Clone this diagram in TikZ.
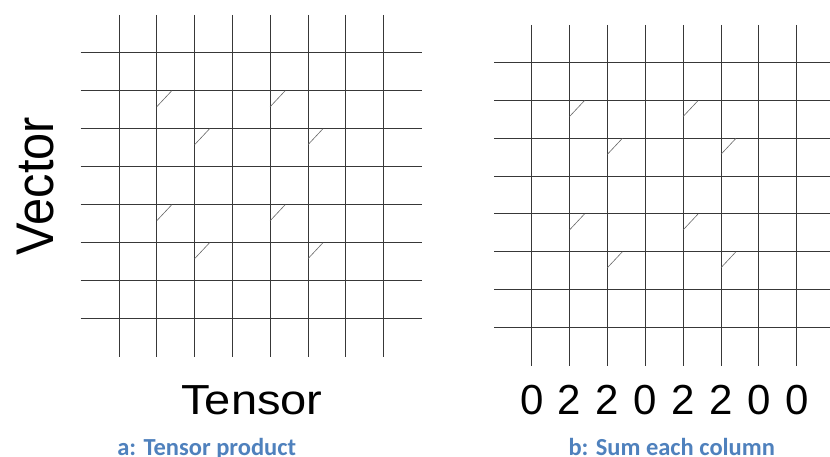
\documentclass[tikz,border=0pt]{standalone}
\usepackage{fontspec}
\usepackage{graphicx}
\newfontfamily\arialf{Liberation Sans}
\newfontfamily\calib{Carlito}
\definecolor{capblue}{RGB}{79,129,189}
\tikzset{
  gridline/.style={draw=black!78, line width=0.8pt},
  tick/.style={draw=black!60, line width=0.6pt},
  bigtext/.style={font=\arialf\fontsize{42}{48}\selectfont, inner sep=0pt, anchor=base},
  captext/.style={font=\calib\bfseries\fontsize{24.5}{28}\selectfont, text=capblue, inner sep=0pt, anchor=base}
}
\begin{document}
\begin{tikzpicture}[x=1pt,y=-1pt]
\useasboundingbox (0,0) rectangle (830,457);
% ---------- left grid ----------
\foreach \i in {0,...,7} {
  \draw[gridline] ({119+\i*37.8},15) -- ({119+\i*37.8},356.7);
  \draw[gridline] (80.7,{52.7+\i*38}) -- (421.7,{52.7+\i*38});
}
\foreach \c/\r in {1/1,4/1,2/2,5/2,1/4,4/4,2/5,5/5} {
  \draw[tick] ({119+\c*37.8},{52.7+\r*38+16}) -- ({119+\c*37.8+15},{52.7+\r*38});
}
% ---------- right grid ----------
\foreach \i in {0,...,7} {
  \draw[gridline] ({531.7+\i*37.86},25) -- ({531.7+\i*37.86},366);
  \draw[gridline] (494,{62.7+\i*37.8}) -- (840,{62.7+\i*37.8});
}
\foreach \c/\r in {1/1,4/1,2/2,5/2,1/4,4/4,2/5,5/5} {
  \draw[tick] ({531.7+\c*37.86},{62.7+\r*37.8+16}) -- ({531.7+\c*37.86+15},{62.7+\r*37.8});
}
% ---------- labels ----------
\node[font=\arialf\fontsize{53}{60}\selectfont, inner sep=0pt, anchor=base, rotate=90] (vec) at (53,186) {\scalebox{0.92}[1]{Vector}};
\node[bigtext] (ten) at (252,414.3) {\scalebox{1.12}[1]{Tensor}};
\foreach \d [count=\k from 0] in {0,2,2,0,2,2,0,0} {
  \node[bigtext] (d\k) at ({531.7+\k*37.86},414.3) {\d};
}
\node[captext] (capa) at (206.7,455) {a: Tensor product};
\node[captext] (capb) at (671.7,455) {b: Sum each column};
\end{tikzpicture}
\end{document}
